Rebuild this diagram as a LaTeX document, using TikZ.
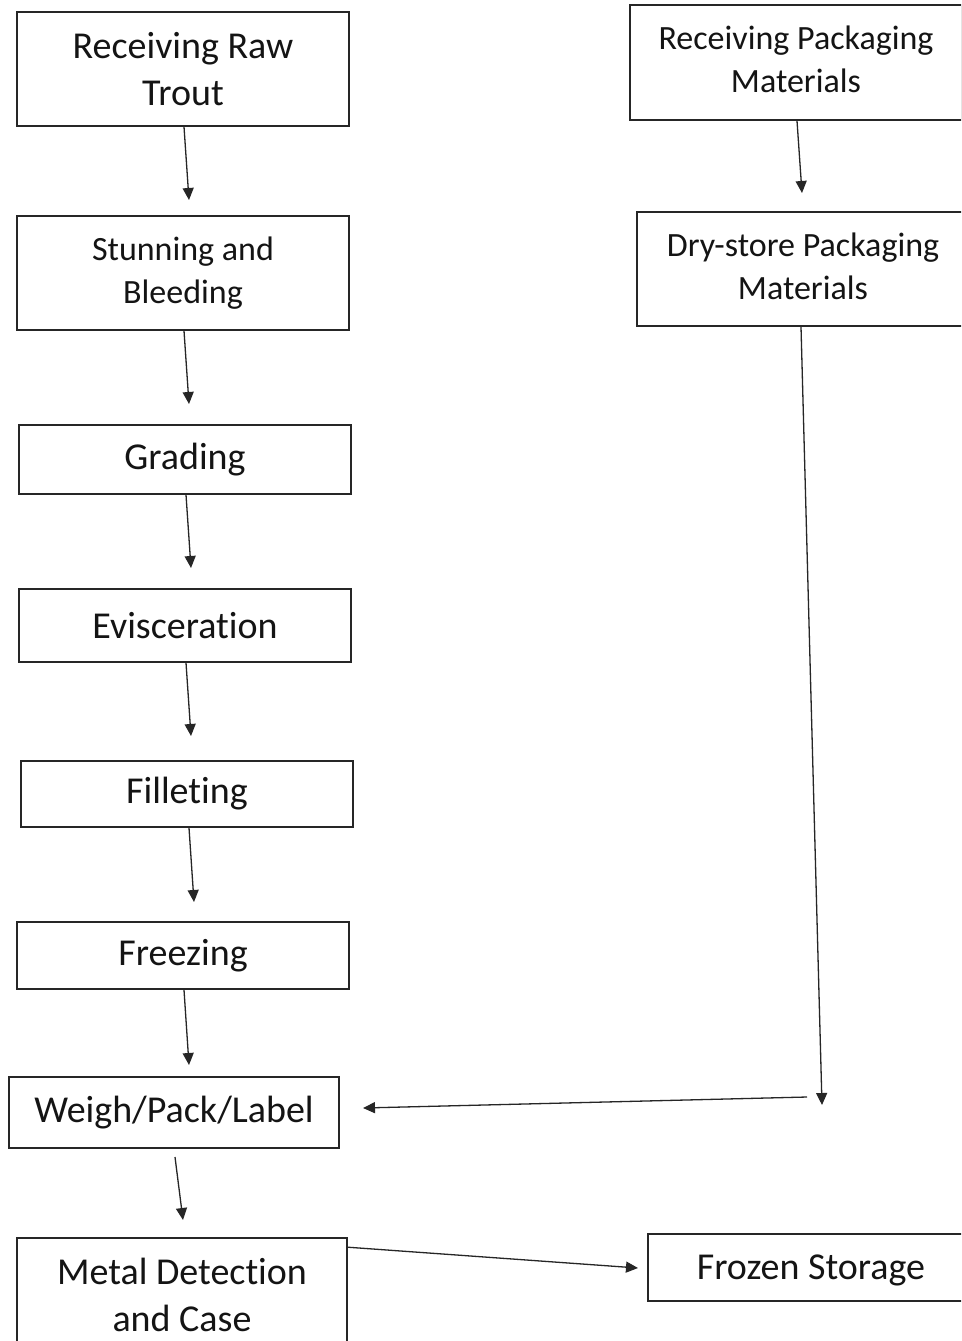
\documentclass[tikz,border=0pt]{standalone}
\usepackage{fontspec}
\setmainfont{Carlito}[Ligatures={NoCommon},RawFeature={-liga;-calt}]
\usetikzlibrary{arrows.meta}
\newcommand{\nolig}{\kern0pt }
\tikzset{
  box/.style={draw=black!85, line width=1.6pt, rectangle, inner sep=0pt, align=center, text=black!92},
  big/.style={font=\fontsize{38}{47}\selectfont},
  small/.style={font=\fontsize{34}{43}\selectfont},
  arr/.style={draw=black!85, line width=1.3pt, -{Triangle[length=12pt,width=11pt]}},
  lbl/.style={inner sep=0pt, align=center, text=black!92}
}
\begin{document}
\begin{tikzpicture}[x=1pt,y=-1pt]
\useasboundingbox (0,0) rectangle (961,1341);
\fill[white] (0,0) rectangle (961,1341);
\clip (0,0) rectangle (961,1341);
% left column
\node[box,big,minimum width=332pt,minimum height=114pt] (b1) at (183,69) {Receiving Raw\\Trout};
\node[box,small,minimum width=332pt,minimum height=114pt] (b2) at (183,273) {Stunning and\\Bleeding};
\node[box,big,minimum width=332pt,minimum height=69pt] (b3) at (185,459.5) {Grading};
\node[box,big,minimum width=332pt,minimum height=73pt] (b4) at (185,625.5) {Eviscerat\nolig ion};
\node[box,big,minimum width=332pt,minimum height=66pt] (b5) at (187,794) {Fillet\nolig ing};
\node[box,big,minimum width=332pt,minimum height=67pt] (b6) at (183,955.5) {Freezing};
\node[box,big,minimum width=330pt,minimum height=71pt] (b7) at (174,1112.5) {Weigh/Pack/Label};
\node[box,big,minimum width=330pt,minimum height=113pt] (b8) at (182,1294.5) {Metal Detect\nolig ion\\and Case};
% right column
\node[box,minimum width=332pt,minimum height=115pt] (b9) at (796,62.5) {};
\node[lbl,small] (l9) at (796,59.5) {Receiving Packaging\\Materials};
\node[box,minimum width=332pt,minimum height=114pt] (b10) at (803,269) {};
\node[lbl,small] (l10) at (803,266) {Dry-store Packaging\\Materials};
\node[box,minimum width=326pt,minimum height=67pt] (b11) at (811,1267.5) {};
\node[lbl,big] (l11) at (811,1270.5) {Frozen Storage};
% free ends
\coordinate (t1) at (189,200);
\coordinate (t2) at (189,404);
\coordinate (t3) at (191,568);
\coordinate (t4) at (191,736);
\coordinate (t5) at (194,902);
\coordinate (t6) at (189,1065);
\coordinate (s7) at (175,1157);
\coordinate (t7) at (183,1220);
\coordinate (t8) at (802,193);
\coordinate (t9) at (822,1105);
\coordinate (s10) at (807,1097);
\coordinate (t10) at (363,1108);
\coordinate (t11) at (638,1268);
% connectors
\draw[arr] ([xshift=1pt]b1.south) -- (t1);
\draw[arr] ([xshift=1pt]b2.south) -- (t2);
\draw[arr] ([xshift=1pt]b3.south) -- (t3);
\draw[arr] ([xshift=1pt]b4.south) -- (t4);
\draw[arr] ([xshift=2pt]b5.south) -- (t5);
\draw[arr] ([xshift=1pt]b6.south) -- (t6);
\draw[arr] (s7) -- (t7);
\draw[arr] ([xshift=1pt]b9.south) -- (t8);
\draw[arr] ([xshift=-2pt]b10.south) -- (t9);
\draw[arr] (s10) -- (t10);
\draw[arr] ([yshift=-10pt]b8.north east) -- (t11);
\end{tikzpicture}
\end{document}
